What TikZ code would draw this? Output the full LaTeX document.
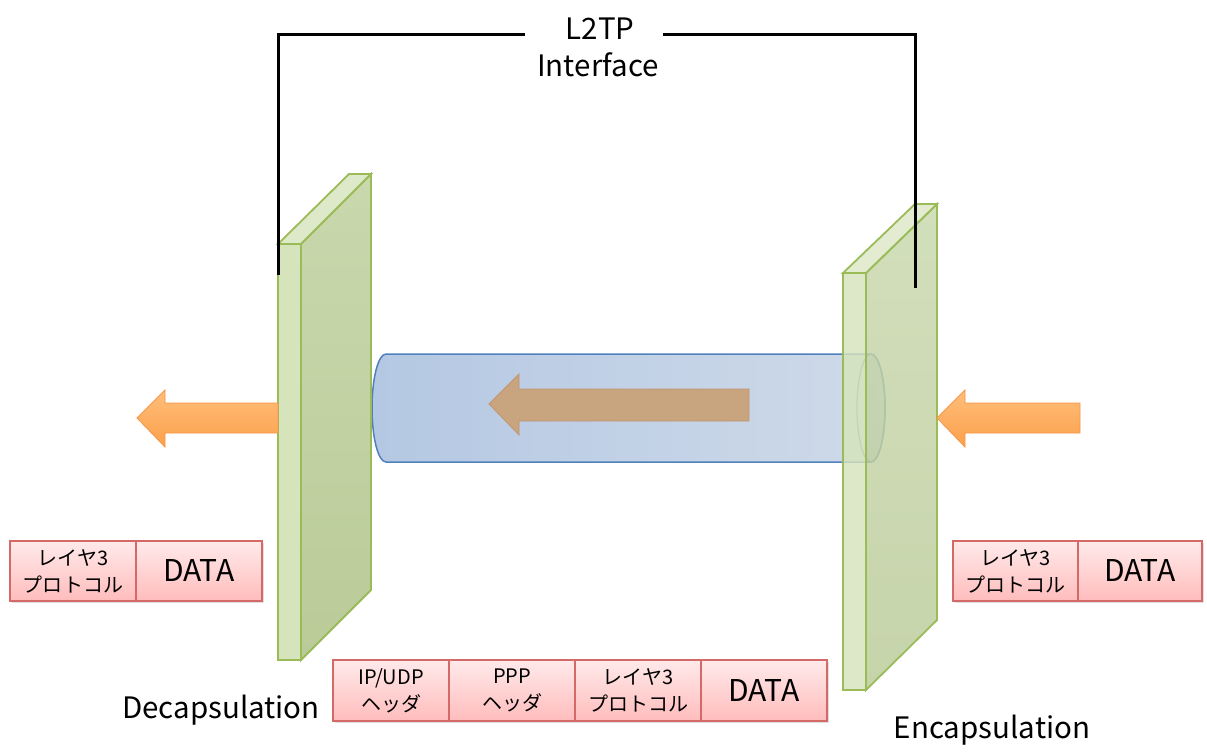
\documentclass[tikz,border=0pt]{standalone}
\usepackage{fontspec}
\setmainfont{Noto Sans CJK JP}
\usetikzlibrary{shadows}
\definecolor{pnlfront}{HTML}{D6E4BC}
\definecolor{pnltop}{HTML}{DDE9C8}
\definecolor{pnlsideT}{HTML}{C9D8AD}
\definecolor{pnlsideB}{HTML}{BACB98}
\definecolor{pnledge}{HTML}{9BBB59}
\definecolor{cylL}{HTML}{B4C8E3}
\definecolor{cylR}{HTML}{CFDAE9}
\definecolor{cyledge}{HTML}{4F81BD}
\definecolor{orT}{HTML}{FFBE7A}
\definecolor{orB}{HTML}{FBA04C}
\definecolor{ored}{HTML}{F79646}
\definecolor{brn}{HTML}{C8A47F}
\definecolor{brnedge}{HTML}{C29670}
\definecolor{pkT}{HTML}{FFEAEA}
\definecolor{pkB}{HTML}{FFBCBC}
\definecolor{pkedge}{HTML}{D46A68}
\tikzset{
  pkt/.style={draw=pkedge, line width=1.5pt, top color=pkT, bottom color=pkB,
    minimum height=60, inner sep=0pt, align=center,
    drop shadow={shadow xshift=2pt, shadow yshift=-2pt, opacity=0.25}},
  small/.style={font=\fontsize{20}{27}\selectfont},
  big/.style={font=\fontsize{30}{32}\selectfont},
  lbl/.style={font=\fontsize{29.5}{32}\selectfont, inner sep=0pt, anchor=base},
  bracket/.style={line width=3pt, black},
  orarrow/.style={draw=ored, line width=0.8pt, top color=orT, bottom color=orB},
  panelfront/.style={draw=pnledge, line width=1.8pt, fill=pnlfront},
  paneltop/.style={draw=pnledge, line width=1.8pt, fill=pnltop},
  panelside/.style={draw=pnledge, line width=1.8pt, top color=pnlsideT, bottom color=pnlsideB},
}
\begin{document}
\begin{tikzpicture}[x=1pt,y=-1pt]
\useasboundingbox (0,0) rectangle (1207,754);
\fill[white] (0,0) rectangle (1207,754);

% bracket
\coordinate (lend) at (278,275);
\coordinate (ltop) at (278,35);
\coordinate (gapL) at (525,35);
\coordinate (gapR) at (663,35);
\coordinate (rtop) at (915,35);
\coordinate (rend) at (915,288);
\node[lbl] (l2tp) at (600,40) {L2TP};
\node[lbl] (iface) at (598,77) {Interface};

% tunnel cylinder
\path[left color=cylL, right color=cylR, draw=cyledge, line width=1.5pt]
  (386,354) -- (871,354) arc[start angle=-90, end angle=90, x radius=14, y radius=54]
  -- (386,462) arc[start angle=90, end angle=270, x radius=14, y radius=54] -- cycle;
\draw[cyledge!70!gray, line width=1.2pt] (871,408) ellipse [x radius=14, y radius=54];

% brown arrow in tunnel
\path[fill=brn, draw=brnedge, line width=0.8pt]
  (489,404) -- (519,374) -- (519,389) -- (749,389) -- (749,421) -- (519,421) -- (519,435) -- cycle;

% left panel
\path[panelside] (301,244) -- (371,174) -- (371,590) -- (301,660) -- cycle;
\path[paneltop] (278,244) -- (349,174) -- (371,174) -- (301,244) -- cycle;
\path[panelfront] (278,244) rectangle (301,660);

% right panel (translucent)
\begin{scope}[fill opacity=0.82]
\path[panelside] (866,273) -- (937,204) -- (937,620) -- (866,690) -- cycle;
\path[paneltop] (843,273) -- (915,204) -- (937,204) -- (866,273) -- cycle;
\path[panelfront] (843,273) rectangle (866,690);
\end{scope}

% bracket lines
\draw[bracket] (lend) -- (ltop) -- (gapL);
\draw[bracket] (gapR) -- (rtop) -- (rend);

% orange arrows
\path[orarrow] (137,418) -- (165,390) -- (165,403) -- (278,403) -- (278,433) -- (165,433) -- (165,447) -- cycle;
\path[orarrow] (937,418) -- (965,390) -- (965,403) -- (1080,403) -- (1080,433) -- (965,433) -- (965,447) -- cycle;

% packets left
\node[pkt, small, minimum width=126] (l3a) at (73,571) {レイヤ3\\プロトコル};
\node[pkt, big, minimum width=126] (lda) at (199,571) {DATA};
% packets right
\node[pkt, small, minimum width=125] (r3a) at (1015.5,571) {レイヤ3\\プロトコル};
\node[pkt, big, minimum width=124] (rda) at (1140,571) {DATA};
% packets bottom
\node[pkt, small, minimum width=116, minimum height=61] (bip) at (391,690.5) {IP/UDP\\ヘッダ};
\node[pkt, small, minimum width=126, minimum height=61] (bppp) at (512,690.5) {PPP\\ヘッダ};
\node[pkt, small, minimum width=126, minimum height=61] (bl3) at (638,690.5) {レイヤ3\\プロトコル};
\node[pkt, big, minimum width=126, minimum height=61] (bda) at (764,690.5) {DATA};

% labels
\node[lbl] (decap) at (221,718) {Decapsulation};
\node[lbl] (encap) at (992,738) {Encapsulation};
\end{tikzpicture}
\end{document}
